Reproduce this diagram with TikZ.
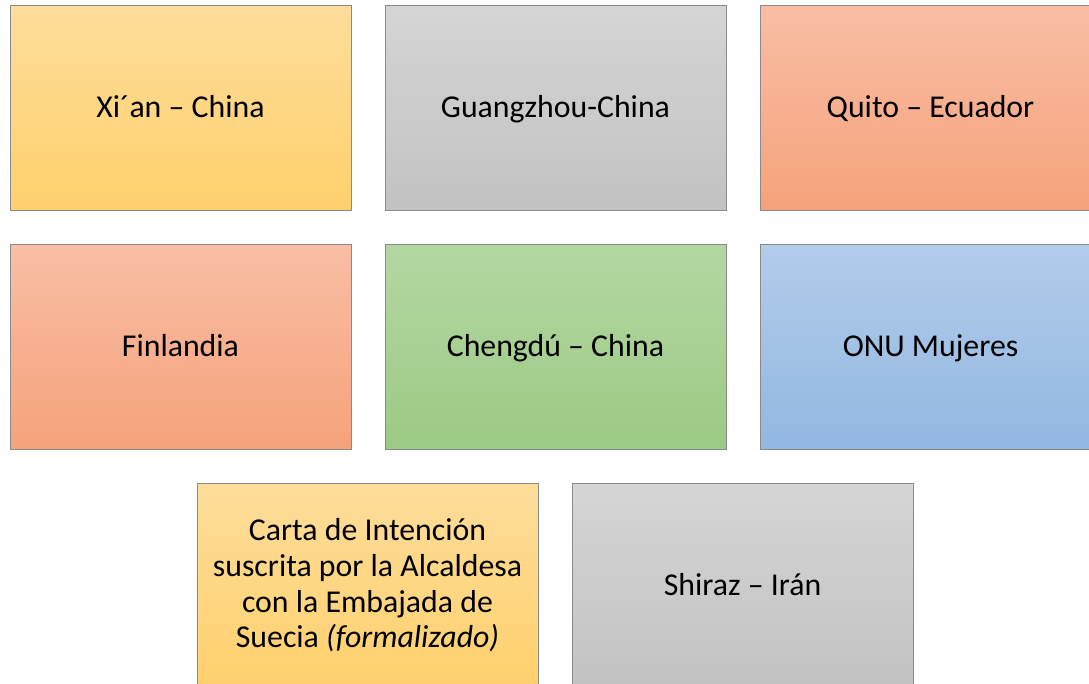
\documentclass[tikz,border=0pt]{standalone}
\usepackage{fontspec}
\setmainfont{Carlito}
\definecolor{yelT}{HTML}{FEDD9B}
\definecolor{yelB}{HTML}{FFD06C}
\definecolor{grayT}{HTML}{D5D5D5}
\definecolor{grayB}{HTML}{C2C2C2}
\definecolor{oraT}{HTML}{F9BEA4}
\definecolor{oraB}{HTML}{F5A27B}
\definecolor{greT}{HTML}{B4D7A2}
\definecolor{greB}{HTML}{9BCA84}
\definecolor{bluT}{HTML}{B2CCEA}
\definecolor{bluB}{HTML}{92B7E1}
\definecolor{edge}{HTML}{8A8A8A}
\tikzset{
  box/.style={draw=edge, line width=1pt, minimum width=341pt, minimum height=205pt,
    inner sep=0pt, align=center, font=\fontsize{31.8}{35.7}\selectfont},
  oneline/.style={text height=25pt, text depth=5pt},
  yelbox/.style={box, top color=yelT, bottom color=yelB},
  graybox/.style={box, top color=grayT, bottom color=grayB},
  orabox/.style={box, top color=oraT, bottom color=oraB},
  grebox/.style={box, top color=greT, bottom color=greB},
  blubox/.style={box, top color=bluT, bottom color=bluB}
}
\begin{document}
\begin{tikzpicture}[x=1pt,y=-1pt]
\useasboundingbox (0,0) rectangle (1089,683);
\clip (0,0) rectangle (1089,683);
\node[yelbox, oneline] (xian) at (180.5,107.5) {Xi´an – China};
\node[graybox, oneline] (guangzhou) at (555.5,107.5) {Guangzhou-China};
\node[orabox, oneline] (quito) at (930.5,107.5) {Quito – Ecuador};
\node[orabox, oneline] (finlandia) at (180.5,346.5) {Finlandia};
\node[grebox, oneline] (chengdu) at (555.5,346.5) {Chengdú – China};
\node[blubox, oneline] (onu) at (930.5,346.5) {ONU Mujeres};
\node[yelbox] (carta) at (367.5,585.5) {Carta de Intención\\suscrita por la Alcaldesa\\con la Embajada de\\Suecia \textit{(formalizado)}};
\node[graybox, oneline] (shiraz) at (742.5,585.5) {Shiraz – Irán};
\end{tikzpicture}
\end{document}
